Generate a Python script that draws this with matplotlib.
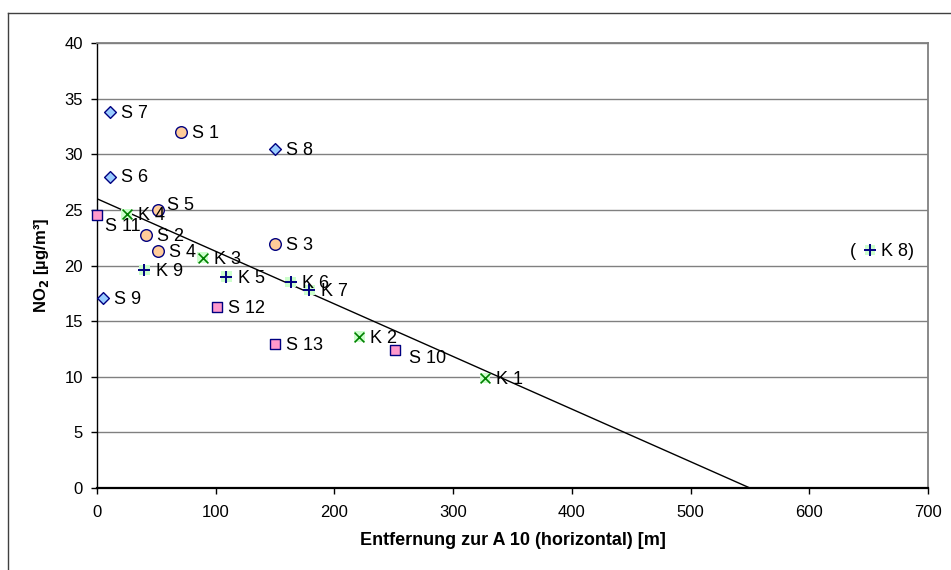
import numpy as np
import matplotlib
matplotlib.use("Agg")
from matplotlib import pyplot as plt
from matplotlib.lines import Line2D

plt.rcParams['font.family'] = ['Liberation Sans', 'DejaVu Sans']

# S points, diamonds
diaNames = ["S 6", "S 7", "S 8", "S 9"]
diaX = [11, 11, 150, 5]
diaY = [28.0, 33.8, 30.5, 17.1]

# S points, circles
cirNames = ["S 1", "S 2", "S 3", "S 4", "S 5"]
cirX = [71, 41, 150, 51, 51]
cirY = [32.0, 22.7, 21.9, 21.3, 25.0]

# S points, squares
sqNames = ["S 10", "S 11", "S 12", "S 13"]
sqX = [251, 0, 101, 150]
sqY = [12.4, 24.5, 16.3, 12.9]

# K points, x markers
kxNames = ["K 1", "K 2", "K 3", "K 4"]
kxX = [327, 221, 89, 25]
kxY = [9.9, 13.6, 20.7, 24.6]

# K points, + markers
kpNames = ["K 5", "K 6", "K 7", "K 8", "K 9"]
kpX = [109, 163, 179, 651, 40]
kpY = [19.0, 18.5, 17.8, 21.4, 19.6]

# trend line
trendIntercept = 26.0
trendSlope = -26.0 / 550

# label offsets (points) where not default
labelOffsets = {"S 11": (6, -8), "S 10": (10, -6), "S 5": (7, 3)}

navy = "#000080"

fig = plt.figure(figsize=(9.51, 5.70), dpi=100)
ax = fig.add_axes([97/951, 1-488/570, (928-97)/951, (488-43)/570])

ax.set_xlim(0, 700)
ax.set_ylim(0, 40)
ax.set_yticks(np.arange(0, 41, 5))
ax.set_xticks(np.arange(0, 701, 100))
ax.yaxis.grid(True, color="#808080", linewidth=1)
ax.set_axisbelow(True)

for s in ["top", "right"]:
	ax.spines[s].set_color("#808080")
	ax.spines[s].set_linewidth(1.3)
for s in ["left", "bottom"]:
	ax.spines[s].set_color("black")
	ax.spines[s].set_linewidth(1)
ax.spines["bottom"].set_linewidth(1.6)
ax.tick_params(direction="out", length=4, width=1, labelsize=12, pad=6)
ax.tick_params(axis="x", pad=8)

xs = np.array([0, 700])
ax.plot(xs, trendIntercept + trendSlope*xs, color="black", linewidth=1, zorder=2, clip_on=True)

ax.scatter(diaX, diaY, marker="D", s=36, facecolor="#99CCFF", edgecolor=navy, linewidth=1, zorder=4, clip_on=False)
ax.scatter(cirX, cirY, marker="o", s=70, facecolor="#FFCC99", edgecolor=navy, linewidth=1, zorder=4, clip_on=False)
ax.scatter(sqX, sqY, marker="s", s=60, facecolor="#FF99CC", edgecolor=navy, linewidth=1, zorder=4, clip_on=False)
ax.scatter(kxX, kxY, marker="s", s=58, facecolor="#CCFFCC", edgecolor="none", zorder=3, clip_on=False)
ax.scatter(kxX, kxY, marker="x", s=50, color="#008000", linewidth=1.2, zorder=4, clip_on=False)
ax.scatter(kpX, kpY, marker="s", s=58, facecolor="#CCFFCC", edgecolor="none", zorder=3, clip_on=False)
ax.scatter(kpX, kpY, marker="+", s=64, color=navy, linewidth=1.4, zorder=4, clip_on=False)

for names, xv, yv in [(diaNames, diaX, diaY), (cirNames, cirX, cirY), (sqNames, sqX, sqY),
		(kxNames, kxX, kxY), (kpNames, kpX, kpY)]:
	for n, x, y in zip(names, xv, yv):
		off = labelOffsets.get(n, (8, -1))
		txt = n + ")" if n == "K 8" else n
		ax.annotate(txt, (x, y), xytext=off, textcoords="offset points",
			fontsize=13, ha="left", va="center", zorder=5)
ax.annotate("(", (kpX[3], kpY[3]), xytext=(-10, -1), textcoords="offset points",
	fontsize=13, ha="right", va="center", zorder=5)

ax.set_xlabel("Entfernung zur A 10 (horizontal) [m]", fontsize=13, fontweight="bold", labelpad=9)
ax.set_ylabel("NO$_\\mathbf{2}$ [µg/m³]", fontsize=12, fontweight="bold", labelpad=10)

# outer chart frame
fig.add_artist(Line2D([8/951, 8/951], [0, 1-13/570], color="#404040", linewidth=1))
fig.add_artist(Line2D([8/951, 1], [1-13/570, 1-13/570], color="#404040", linewidth=1))

plt.savefig("out.png", dpi=100)
plt.close('all')
